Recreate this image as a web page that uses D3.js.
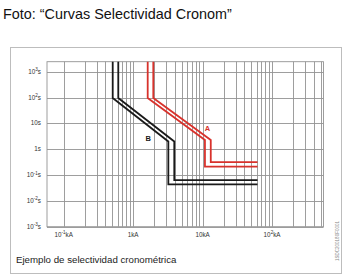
<!DOCTYPE html>
<html lang="es">
<meta charset="utf-8">

<head>
    <title>Curvas Selectividad Cronom</title>
    <script src="https://d3js.org/d3.v7.min.js"></script>
    <style>
        body { margin: 0; background: #fff; }
        svg { display: block; }
    </style>
</head>

<body>
    <div id="plot"></div>
    <script>
        // current in kA, time in s
        var curveB_low = [[0.508, 2450], [0.508, 96], [3.21, 2.0], [3.21, 0.0437], [61.7, 0.0437]];
        var curveB_high = [[0.611, 2450], [0.611, 96], [3.91, 2.0], [3.91, 0.0641], [61.7, 0.0641]];
        var curveA_low = [[1.62, 2450], [1.62, 96], [10.8, 2.27], [10.8, 0.214], [61.7, 0.214]];
        var curveA_high = [[1.95, 2450], [1.95, 96], [13.1, 2.27], [13.1, 0.319], [61.7, 0.319]];

        var yTicks = [1e3, 1e2, 10, 1, 1e-1, 1e-2, 1e-3];
        var yTickLabels = [["10", "3", "s"], ["10", "2", "s"], ["10s", "", ""], ["1s", "", ""],
                           ["10", "-1", "s"], ["10", "-2", "s"], ["10", "-3", "s"]];
        var xTicks = [0.1, 1, 10, 100];
        var xTickLabels = [["10", "-1", "kA"], ["1kA", "", ""], ["10kA", "", ""], ["10", "2", "kA"]];

        var curveLabels = [{ name: "A", I: 11.7, t: 6.4, color: "#d8322c" },
                           { name: "B", I: 1.65, t: 2.64, color: "#1a1a1a" }];

        var W = 346, H = 278;

        var svg = d3.select("#plot").append("svg")
            .attr("width", W)
            .attr("height", H);

        svg.append("text")
            .attr("x", 3)
            .attr("y", 19)
            .style("font-family", "Liberation Sans, Arial, sans-serif")
            .style("font-size", "14.4px")
            .attr("fill", "#111")
            .text("Foto: \u201cCurvas Selectividad Cronom\u201d");

        // outer frame
        svg.append("rect")
            .attr("x", 10.5).attr("y", 47.5)
            .attr("width", 331).attr("height", 226)
            .attr("fill", "none")
            .attr("stroke", "#bdbdbd");

        var x = d3.scaleLog()
            .domain([Math.pow(10, -1.24), Math.pow(10, 2.74)])
            .range([47, 323.5]);
        var y = d3.scaleLog()
            .domain([1e-3, Math.pow(10, 3.39)])
            .range([226.7, 61.7]);

        var g = svg.append("g");

        // vertical grid: 0.1 .. 500
        var xGrid = [];
        [0.1, 1, 10, 100].forEach(function (dec) {
            for (var k = 1; k <= 9; k++) {
                var v = dec * k;
                if (v <= x.domain()[1]) xGrid.push(v);
            }
        });
        g.selectAll(".vgrid")
            .data(xGrid)
            .enter().append("line")
            .attr("class", "vgrid")
            .attr("x1", function (d) { return Math.round(x(d)) + 0.5; })
            .attr("x2", function (d) { return Math.round(x(d)) + 0.5; })
            .attr("y1", y.range()[1])
            .attr("y2", y.range()[0])
            .attr("stroke", "#939393")
            .attr("stroke-width", 0.9);

        g.selectAll(".hgrid")
            .data(yTicks)
            .enter().append("line")
            .attr("class", "hgrid")
            .attr("x1", x.range()[0])
            .attr("x2", x.range()[1])
            .attr("y1", function (d) { return Math.round(y(d)) + 0.5; })
            .attr("y2", function (d) { return Math.round(y(d)) + 0.5; })
            .attr("stroke", "#939393")
            .attr("stroke-width", 0.9);

        // plot border
        g.append("rect")
            .attr("x", x.range()[0]).attr("y", y.range()[1])
            .attr("width", x.range()[1] - x.range()[0])
            .attr("height", y.range()[0] - y.range()[1])
            .attr("fill", "none")
            .attr("stroke", "#939393")
            .attr("stroke-width", 0.9);

        var font = "Liberation Sans, Arial, sans-serif";

        // y labels
        yTicks.forEach(function (t, i) {
            var lab = yTickLabels[i];
            var txt = svg.append("text")
                .attr("x", 41)
                .attr("y", y(t) + 2)
                .attr("text-anchor", "end")
                .style("font-family", font)
                .style("font-size", "6.3px")
                .attr("fill", "#333");
            txt.append("tspan").text(lab[0]);
            if (lab[1]) {
                txt.append("tspan").attr("dy", -2.5).style("font-size", "4.6px").text(lab[1]);
                txt.append("tspan").attr("dy", 2.5).text(lab[2]);
            }
        });

        // x labels
        xTicks.forEach(function (v, i) {
            var lab = xTickLabels[i];
            var txt = svg.append("text")
                .attr("x", x(v))
                .attr("y", 236.5)
                .attr("text-anchor", "middle")
                .style("font-family", font)
                .style("font-size", "6.3px")
                .attr("fill", "#333");
            txt.append("tspan").text(lab[0]);
            if (lab[1]) {
                txt.append("tspan").attr("dy", -2.5).style("font-size", "4.6px").text(lab[1]);
                txt.append("tspan").attr("dy", 2.5).text(lab[2]);
            }
        });

        var line = d3.line()
            .x(function (d) { return x(d[0]); })
            .y(function (d) { return y(d[1]); });

        [[curveB_low, "#1a1a1a"], [curveB_high, "#1a1a1a"],
         [curveA_low, "#d8322c"], [curveA_high, "#d8322c"]].forEach(function (c) {
            g.append("path")
                .datum(c[0])
                .attr("d", line)
                .attr("fill", "none")
                .attr("stroke", c[1])
                .attr("stroke-width", 1.8)
                .attr("stroke-linejoin", "miter");
        });

        svg.selectAll(".clabel")
            .data(curveLabels)
            .enter().append("text")
            .attr("class", "clabel")
            .attr("x", function (d) { return x(d.I); })
            .attr("y", function (d) { return y(d.t) + 2.5; })
            .attr("text-anchor", "middle")
            .style("font-family", font)
            .style("font-size", "7.5px")
            .style("font-weight", "bold")
            .attr("fill", function (d) { return d.color; })
            .text(function (d) { return d.name; });

        svg.append("text")
            .attr("x", 16)
            .attr("y", 263)
            .style("font-family", font)
            .style("font-size", "9.7px")
            .attr("fill", "#222")
            .text("Ejemplo de selectividad cronom\u00e9trica");

        svg.append("text")
            .attr("transform", "translate(338.5,241) rotate(-90)")
            .attr("text-anchor", "middle")
            .style("font-family", font)
            .style("font-size", "4.5px")
            .attr("fill", "#888")
            .text("1SDC200180F0001");
    </script>
</body>

</html>
